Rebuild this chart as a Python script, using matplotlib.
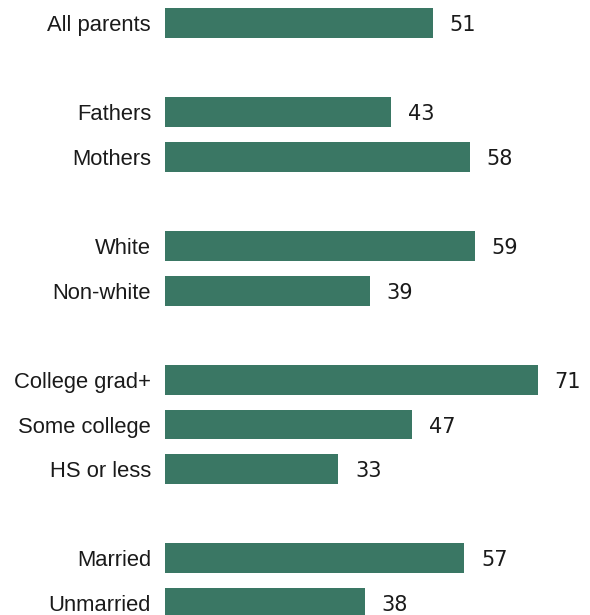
import matplotlib
matplotlib.use('Agg')
import matplotlib.pyplot as plt

labels = ['All parents', 'Fathers', 'Mothers', 'White', 'Non-white',
          'College grad+', 'Some college', 'HS or less', 'Married', 'Unmarried']
values = [51, 43, 58, 59, 39, 71, 47, 33, 57, 38]
rows = [0, 2, 3, 5, 6, 8, 9, 10, 12, 13]

bar_color = '#3a7764'
plt.rcParams['font.family'] = ['Liberation Sans', 'DejaVu Sans']

fig = plt.figure(figsize=(5.9, 6.15), dpi=100)
ax = fig.add_axes([165 / 590, 0, 425 / 590, 1])

ax.barh(rows, values, height=0.67, color=bar_color)
for r, v in zip(rows, values):
    ax.text(v + 3.2, r, str(v), va='center_baseline', ha='left', fontsize=15,
            family='DejaVu Sans', color='#1a1a1a')

ax.set_yticks(rows)
ax.set_yticklabels(labels, fontsize=15.8, color='#1a1a1a')
ax.tick_params(axis='y', length=0, pad=10)
ax.set_xticks([])
ax.set_xlim(0, 425 / 5.25)
ax.set_ylim(13.27, -0.516)
for s in ax.spines.values():
    s.set_visible(False)

fig.savefig('out.png', dpi=100)
